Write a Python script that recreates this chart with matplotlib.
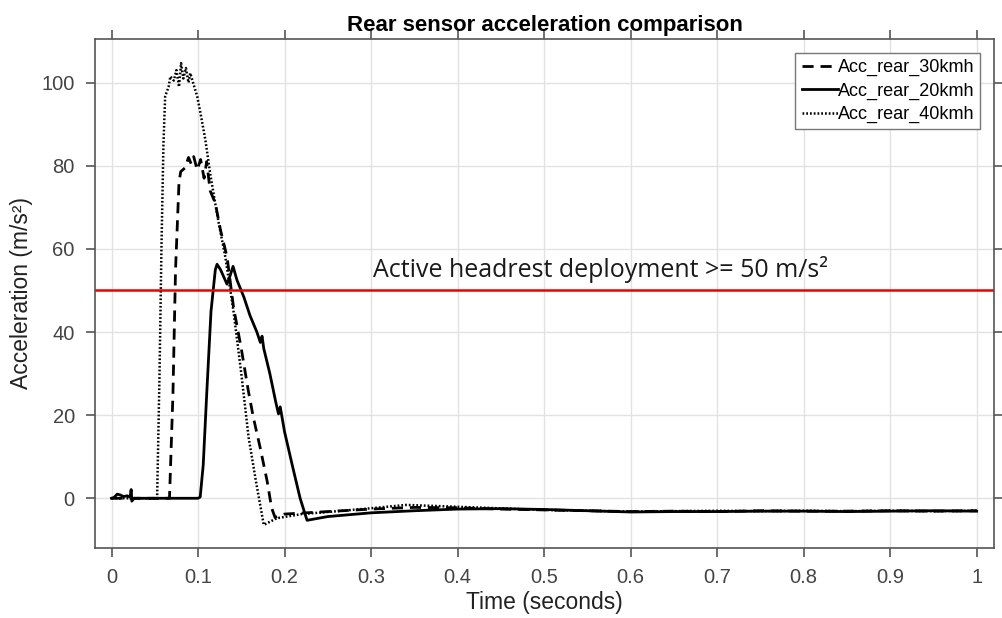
import numpy as np
import matplotlib.pyplot as plt

t_20 = [0.0, 0.003, 0.0066, 0.010, 0.014, 0.018, 0.0215, 0.0227, 0.0235, 0.026,
        0.05, 0.08, 0.100, 0.1025, 0.106, 0.110, 0.115, 0.120, 0.122, 0.126,
        0.1335, 0.137, 0.1405, 0.145, 0.153, 0.160, 0.168, 0.172, 0.174, 0.176,
        0.183, 0.190, 0.193, 0.195, 0.200, 0.210, 0.218, 0.226, 0.25, 0.30,
        0.35, 0.40, 0.45, 0.50, 0.55, 0.60, 0.65, 0.70, 0.75, 0.80, 0.85, 0.90,
        0.95, 1.0]
a_20 = [0.0, 0.2, 1.0, 0.8, 0.4, 0.6, 0.3, 2.1, -0.7, 0.0,
        0.0, 0.0, 0.0, 0.3, 8.0, 25.0, 45.0, 55.0, 56.3, 55.0,
        51.5, 53.5, 55.8, 52.5, 48.4, 44.0, 40.0, 37.5, 39.0, 36.0,
        30.0, 23.0, 20.3, 22.0, 16.0, 7.0, 0.0, -5.3, -4.4, -3.5,
        -3.0, -2.6, -2.5, -2.7, -3.0, -3.3, -3.2, -3.2, -3.1, -3.1, -3.2, -3.1,
        -3.0, -3.1]

t_30 = [0.0, 0.060, 0.067, 0.071, 0.074, 0.078, 0.080, 0.085, 0.089, 0.092,
        0.095, 0.099, 0.103, 0.107, 0.110, 0.114, 0.118, 0.120, 0.126, 0.1336,
        0.141, 0.150, 0.158, 0.164, 0.172, 0.180, 0.185, 0.189, 0.20, 0.25,
        0.30, 0.35, 0.40, 0.45, 0.50, 0.55, 0.60, 0.65, 0.70, 0.75, 0.80, 0.85,
        0.90, 0.95, 1.0]
a_30 = [0.0, 0.0, 0.0, 25.0, 55.0, 76.0, 78.6, 79.5, 82.0, 80.5,
        82.2, 79.0, 81.5, 77.0, 81.0, 74.0, 72.0, 71.0, 64.5, 58.0,
        46.0, 36.0, 26.0, 19.4, 12.0, 4.0, -2.3, -4.6, -3.8, -3.2,
        -2.6, -2.2, -2.3, -2.6, -2.8, -3.0, -3.2, -3.1, -3.2, -3.0, -3.1, -3.1,
        -3.0, -3.1, -3.0]

t_40 = [0.0, 0.050, 0.0527, 0.0555, 0.0577, 0.060, 0.062, 0.066, 0.068, 0.072,
        0.075, 0.078, 0.0804, 0.083, 0.086, 0.089, 0.091, 0.095, 0.099, 0.1028,
        0.1085, 0.114, 0.119, 0.124, 0.1316, 0.141, 0.150, 0.1585, 0.167, 0.176,
        0.191, 0.22, 0.25, 0.30, 0.341, 0.38, 0.42, 0.46, 0.50, 0.55, 0.60,
        0.65, 0.70, 0.75, 0.80, 0.85, 0.90, 0.95, 1.0]
a_40 = [0.0, 0.0, 0.0, 30.0, 60.0, 85.0, 96.7, 99.0, 101.5, 100.5,
        103.0, 99.0, 104.7, 101.0, 103.5, 100.0, 102.3, 99.5, 96.7, 92.7,
        86.2, 78.2, 72.0, 66.1, 58.0, 45.0, 30.0, 14.6, 4.0, -6.4,
        -4.8, -3.8, -3.3, -2.4, -1.6, -1.9, -2.2, -2.5, -2.8, -3.0, -3.2,
        -3.1, -3.0, -3.1, -3.0, -3.1, -3.0, -3.1, -3.0]

schwelle = 50
x_ticks = np.round(np.arange(0, 1.01, 0.1), 1)
x_labels = ['0'] + [f'{v:g}' for v in x_ticks[1:-1]] + ['1']
y_ticks = [0, 20, 40, 60, 80, 100]

plt.rcParams['font.family'] = ['Liberation Sans', 'DejaVu Sans']

fig = plt.figure(figsize=(10.02, 6.18), dpi=100)
ax = fig.add_axes([0.0948, 0.1137, 0.8972, 0.8232])

ax.plot(t_30, a_30, color='black', lw=2.0, ls=(0, (4, 2.5)), label='Acc_rear_30kmh')
ax.plot(t_20, a_20, color='black', lw=2.0, ls='-', label='Acc_rear_20kmh')
ax.plot(t_40, a_40, color='black', lw=1.8, ls=(0, (0.7, 0.8)), label='Acc_rear_40kmh')
ax.axhline(schwelle, color='#ee0000', lw=1.8)

ax.text(0.3025, 53.3, 'Active headrest deployment >= 50 m/s\u00b2',
        fontsize=18, family=['Open Sans', 'DejaVu Sans'], color='#1a1a1a',
        va='baseline', ha='left')

ax.set_xlim(-0.0191, 1.020)
ax.set_ylim(-11.9, 110.5)
ax.set_xticks(x_ticks)
ax.set_xticklabels(x_labels)
ax.set_yticks(y_ticks)

ax.grid(True, color='#e2e2e2', lw=1.0)
ax.set_axisbelow(True)
for s in ax.spines.values():
    s.set_color('#555555')
    s.set_linewidth(1.2)
ax.tick_params(direction='out', length=6.5, width=1.2, color='#555555',
               labelcolor='#444444', labelsize=14.5, pad=8,
               top=True, right=True)

ax.set_xlabel('Time (seconds)', fontsize=16.5, color='#222222', labelpad=3)
ax.set_ylabel('Acceleration (m/s\u00b2)', fontsize=16.5, color='#222222', labelpad=6)
ax.set_title('Rear sensor acceleration comparison', fontsize=16, fontweight='bold',
             color='black', pad=6)

leg = ax.legend(loc='upper right', fontsize=13, handlelength=2.0, handletextpad=0.0,
                borderpad=0.35, labelspacing=0.35, borderaxespad=0.75,
                fancybox=False, framealpha=1, edgecolor='#777777')
leg.get_frame().set_linewidth(1.0)

fig.savefig('out.png', dpi=100)
